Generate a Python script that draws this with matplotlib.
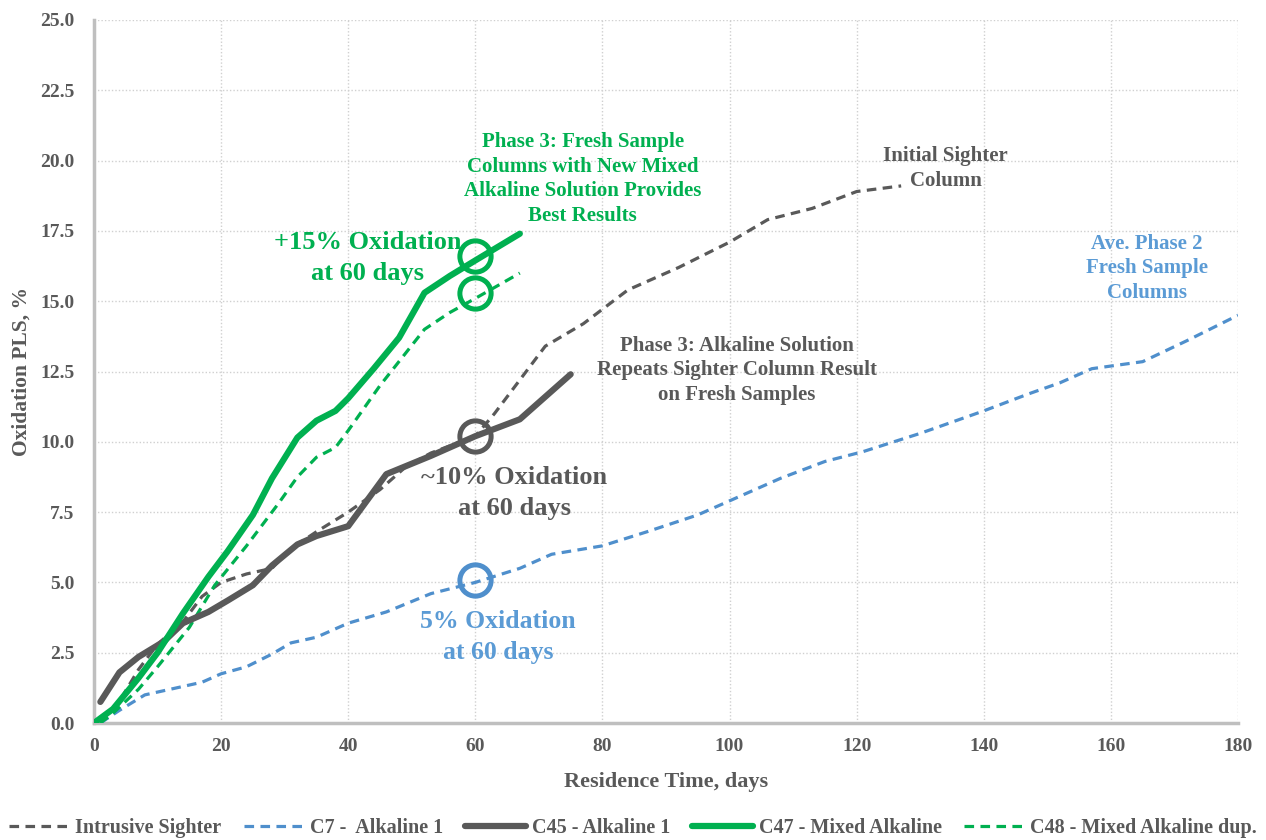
import matplotlib
matplotlib.use("Agg")
import matplotlib.pyplot as plt

# ---------------- data ----------------
sighter_x = [3, 7, 10, 14, 17, 20, 24, 28, 31, 35, 40, 45, 49, 53, 60, 63, 67, 71, 77, 84, 92, 100, 106, 113, 120, 127]
sighter_y = [0.4, 1.9, 2.8, 3.6, 4.5, 5.0, 5.3, 5.5, 6.2, 6.8, 7.5, 8.3, 9.1, 9.6, 10.2, 11.0, 12.2, 13.4, 14.2, 15.4, 16.2, 17.1, 17.9, 18.3, 18.9, 19.1]

c7_x = [1, 4, 8, 13, 17, 20, 24, 28, 31, 35, 40, 46, 53, 60, 67, 72, 80, 87, 95, 102, 108, 115, 121, 130, 140, 147, 152, 157, 165, 172, 180]
c7_y = [0.0, 0.45, 1.0, 1.25, 1.45, 1.75, 2.0, 2.45, 2.85, 3.05, 3.55, 3.95, 4.6, 5.0, 5.5, 6.0, 6.3, 6.8, 7.4, 8.1, 8.7, 9.3, 9.65, 10.3, 11.1, 11.7, 12.1, 12.6, 12.85, 13.6, 14.5]

c45_x = [1, 4, 7, 11, 14, 18, 21, 25, 28, 32, 35, 40, 46, 53, 60, 67, 75]
c45_y = [0.75, 1.8, 2.35, 2.9, 3.55, 3.95, 4.35, 4.9, 5.6, 6.35, 6.65, 7.0, 8.85, 9.5, 10.2, 10.8, 12.4]

c47_x = [0, 3, 7, 10, 14, 18, 21, 25, 28, 32, 35, 38, 40, 44, 48, 52, 56, 60, 67]
c47_y = [0, 0.5, 1.6, 2.5, 3.9, 5.2, 6.1, 7.4, 8.7, 10.15, 10.75, 11.1, 11.55, 12.6, 13.7, 15.3, 15.9, 16.45, 17.4]

c48_x = [1, 3, 7, 10, 15, 19, 24, 29, 32, 35, 38, 40, 45, 52, 56, 60, 67]
c48_y = [0, 0.35, 1.2, 2.0, 3.4, 4.9, 6.3, 7.8, 8.75, 9.45, 9.8, 10.4, 12.0, 14.0, 14.6, 15.1, 16.0]

series_labels = ["Intrusive Sighter", "C7 -  Alkaline 1", "C45 - Alkaline 1", "C47 - Mixed Alkaline", "C48 - Mixed Alkaline dup."]

circle_x = [60, 60, 60, 60]
circle_y = [16.6, 15.3, 10.2, 5.1]

x_ticks = [0, 20, 40, 60, 80, 100, 120, 140, 160, 180]
y_ticks = [0.0, 2.5, 5.0, 7.5, 10.0, 12.5, 15.0, 17.5, 20.0, 22.5, 25.0]

# ---------------- style ----------------
GRAY = "#595959"
BLUE = "#5b9bd5"
BLUE_LINE = "#4f8fcc"
GREEN = "#00b050"
FONT = ["Liberation Serif", "DejaVu Serif"]

plt.rcParams["font.family"] = FONT
plt.rcParams["font.weight"] = "bold"

fig = plt.figure(figsize=(12.66, 8.40), dpi=100)
ax = fig.add_axes([94 / 1266, 1 - 723 / 840, (1238 - 94) / 1266, (723 - 20) / 840])

dash = (3, 2)
ax.plot(sighter_x, sighter_y, color=GRAY, lw=2.3, dashes=dash, label=series_labels[0], zorder=3)
ax.plot(c7_x, c7_y, color=BLUE_LINE, lw=2.3, dashes=dash, label=series_labels[1], zorder=3)
ax.plot(c45_x, c45_y, color=GRAY, lw=4.5, solid_capstyle="round", label=series_labels[2], zorder=4)
ax.plot(c47_x, c47_y, color=GREEN, lw=4.5, solid_capstyle="round", label=series_labels[3], zorder=4)
ax.plot(c48_x, c48_y, color=GREEN, lw=2.3, dashes=dash, label=series_labels[4], zorder=3)

circle_colors = [GREEN, GREEN, GRAY, BLUE_LINE]
for cx, cy, cc in zip(circle_x, circle_y, circle_colors):
    ax.plot([cx], [cy], marker="o", markersize=22.5, mfc="none", mec=cc, mew=3.6, zorder=6)

ax.set_xlim(0, 180)
ax.set_ylim(0, 25)
ax.set_xticks(x_ticks)
ax.set_yticks(y_ticks)
ax.set_xticklabels([str(t) for t in x_ticks])
ax.set_yticklabels([f"{t:.1f}" for t in y_ticks])
ax.tick_params(axis="both", length=0, labelsize=14, labelcolor=GRAY)
ax.tick_params(axis="y", pad=14)
ax.tick_params(axis="x", pad=11)
for lab in ax.get_xticklabels() + ax.get_yticklabels():
    lab.set_fontweight("bold")

ax.grid(True, color="#d0d0d0", linestyle=(0, (1, 1.5)), lw=1.0, zorder=0)
ax.set_axisbelow(True)
for s in ["top", "right"]:
    ax.spines[s].set_visible(False)
for s in ["left", "bottom"]:
    ax.spines[s].set_color("#bfbfbf")
    ax.spines[s].set_linewidth(2.5)

ax.set_xlabel("Residence Time, days", fontsize=16, fontweight="bold", color=GRAY, labelpad=12)
ax.set_ylabel("Oxidation PLS, %", fontsize=15.5, fontweight="bold", color=GRAY, labelpad=6)

# annotations
ax.text(76.9, 19.35, "Phase 3: Fresh Sample\nColumns with New Mixed\nAlkaline Solution Provides\nBest Results",
        ha="center", va="center", fontsize=15, fontweight="bold", color=GREEN, linespacing=1.3)
ax.text(43.1, 16.55, "+15% Oxidation\nat 60 days", ha="center", va="center", fontsize=19,
        fontweight="bold", color=GREEN, linespacing=1.45)
ax.text(134.0, 19.72, "Initial Sighter\nColumn", ha="center", va="center", fontsize=15,
        fontweight="bold", color=GRAY, linespacing=1.3)
ax.text(165.7, 16.18, "Ave. Phase 2\nFresh Sample\nColumns", ha="center", va="center", fontsize=15,
        fontweight="bold", color=BLUE, linespacing=1.3)
ax.text(101.2, 12.54, "Phase 3: Alkaline Solution\nRepeats Sighter Column Result\non Fresh Samples",
        ha="center", va="center", fontsize=15, fontweight="bold", color=GRAY, linespacing=1.3)
ax.text(66.1, 8.18, "~10% Oxidation\nat 60 days", ha="center", va="center", fontsize=19,
        fontweight="bold", color=GRAY, linespacing=1.45)
ax.text(63.6, 3.06, "5% Oxidation\nat 60 days", ha="center", va="center", fontsize=18.5,
        fontweight="bold", color=BLUE, linespacing=1.45)

handles, labels = ax.get_legend_handles_labels()
leg = fig.legend(handles, labels, loc="center", bbox_to_anchor=(0.5, 1 - 828 / 840), ncol=5,
                 frameon=False, fontsize=14.5, handlelength=3.0, handletextpad=0.3,
                 columnspacing=1.1, borderaxespad=0)
for t in leg.get_texts():
    t.set_color(GRAY)
    t.set_fontweight("bold")

fig.savefig("out.png", dpi=100)
